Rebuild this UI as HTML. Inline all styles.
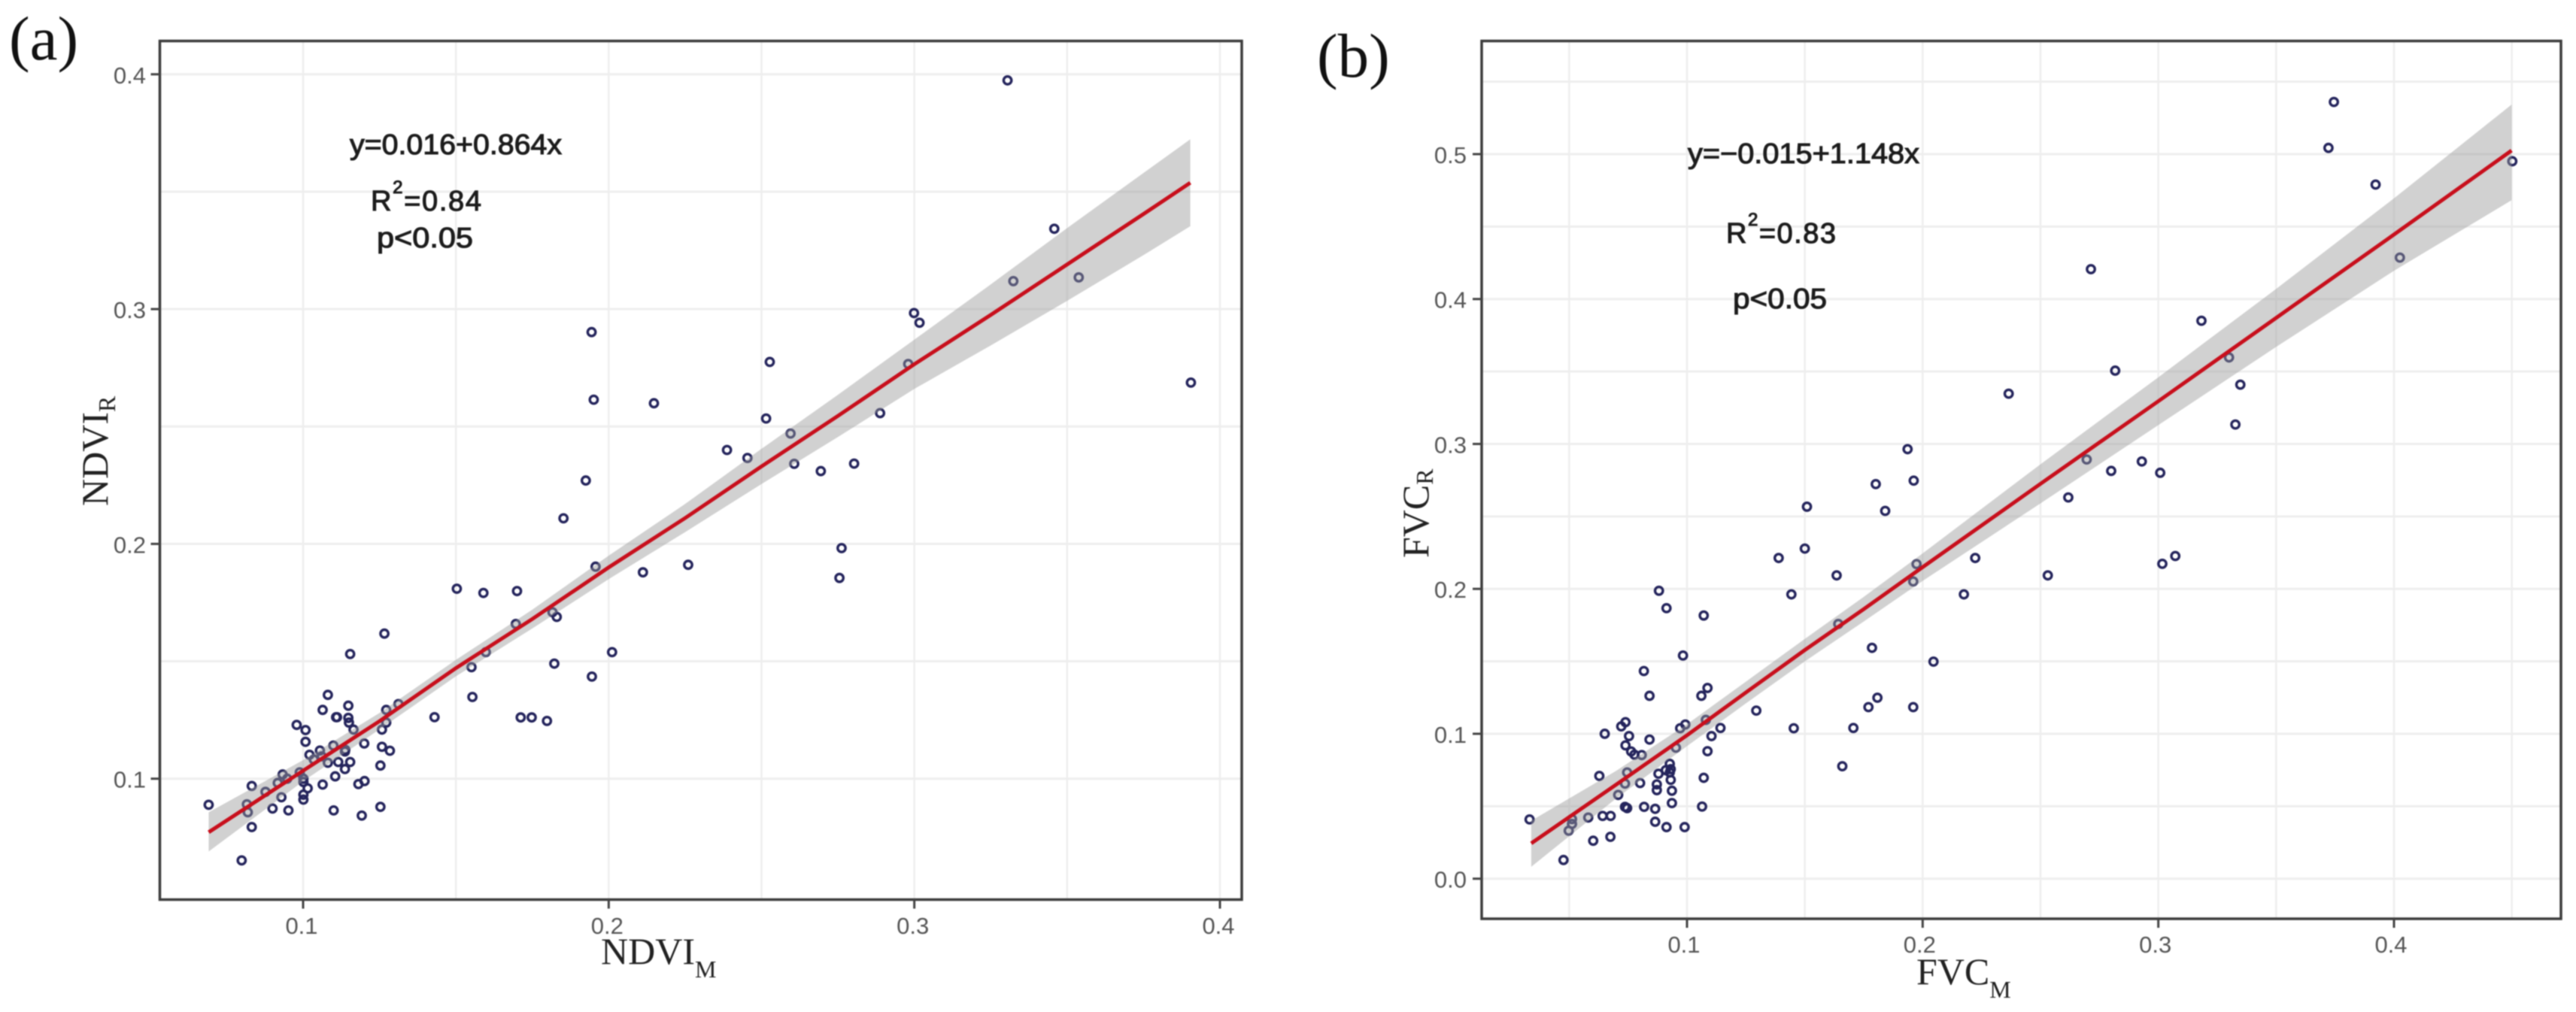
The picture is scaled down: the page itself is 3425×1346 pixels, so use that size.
<!DOCTYPE html>
<html lang="en">
<head>
<meta charset="utf-8">
<title>NDVI and FVC regression scatter plots</title>
<style>
html,body{margin:0;padding:0;background:#fff;width:3425px;height:1346px;overflow:hidden}
svg{display:block;filter:blur(.7px)}
.tick{font-family:"Liberation Sans",sans-serif;font-size:31px;fill:#555}
.axis{font-family:"Liberation Serif",serif;font-size:50px;fill:#222}
.sub{font-size:32px}
.panel{font-family:"Liberation Serif",serif;font-size:83px;fill:#111}
.eq{font-family:"Liberation Sans",sans-serif;font-size:38px;fill:#1c1c1c;stroke:#1c1c1c;stroke-width:1.1px}
</style>
</head>
<body>
<svg id="fig" width="3425" height="1346" viewBox="0 0 3425 1346" xmlns="http://www.w3.org/2000/svg">
  <rect width="3425" height="1346" fill="#fff"/>
  <g id="panelA"></g>
  <g id="panelB"></g>

  <text class="panel" x="12" y="79">(a)</text>
  <text class="panel" x="1751" y="102">(b)</text>

  <text class="eq" x="465" y="205" textLength="282" lengthAdjust="spacingAndGlyphs">y=0.016+0.864x</text>
  <text class="eq" x="493" y="280" textLength="147" lengthAdjust="spacing">R<tspan dy="-23" font-size="24">2</tspan><tspan dy="23">=0.84</tspan></text>
  <text class="eq" x="501" y="329" textLength="128" lengthAdjust="spacingAndGlyphs">p&lt;0.05</text>

  <text class="eq" x="2244" y="217" textLength="308" lengthAdjust="spacingAndGlyphs">y=−0.015+1.148x</text>
  <text class="eq" x="2295" y="323" textLength="146" lengthAdjust="spacing">R<tspan dy="-23" font-size="24">2</tspan><tspan dy="23">=0.83</tspan></text>
  <text class="eq" x="2304" y="410" textLength="125" lengthAdjust="spacingAndGlyphs">p&lt;0.05</text>

  <text class="axis" x="799" y="1282">NDVI<tspan class="sub" dy="18">M</tspan></text>
  <text class="axis" x="2548" y="1309">FVC<tspan class="sub" dy="18">M</tspan></text>
  <text class="axis" transform="translate(143,673) rotate(-90)">NDVI<tspan class="sub" dy="10">R</tspan></text>
  <text class="axis" transform="translate(1899,742) rotate(-90)">FVC<tspan class="sub" dy="6">R</tspan></text>
</svg>
<script>
// ---------- Panel (a) data ----------
const aPointsX = [.0691,.0799,.0832,.0816,.0819,.0832,.0877,.0900,.0917,.0929,.0933,.0952,.0948,.0979,.1008,.1008,.0989,.1001,.1001,.1015,.1001,.1001,.1021,.1055,.1061,.1035,.1064,.1081,.1064,.1081,.1099,.1105,.1115,.1100,.1108,.1111,.1138,.1137,.1137,.1154,.1148,.1148,.1150,.1165,.1181,.1200,.1201,.1192,.1258,.1272,.1272,.1312,.1258,.1284,.1253,.1253,.1154,.1266,.1430,.1503,.1551,.1554,.1590,.1598,.1700,.1696,.1712,.1748,.1798,.1816,.1830,.1822,.1852,.1957,.1945,.2011,.2112,.2260,.2762,.2755,.3305,.3458,.3324,.3538,.3905,.2999,.3017,.2980,.2888,.2527,.2148,.2515,.2595,.2387,.2454,.2607,.2694,.2803,.1944,.1951,.1925];
const aPointsY = [.0889,.0652,.0794,.0891,.0857,.0969,.0944,.0873,.0982,.0921,.1018,.0865,.1000,.1229,.1207,.1157,.1027,.1000,.0986,.0959,.0932,.0911,.1102,.1120,.1095,.1082,.1293,.1357,.0975,.1068,.1141,.1010,.1071,.0865,.1262,.1262,.1123,.1116,.1041,.1071,.1311,.1259,.1239,.1209,.0977,.1150,.0990,.0843,.1209,.1239,.1293,.1318,.1136,.1119,.1056,.0880,.1531,.1618,.1262,.1809,.1475,.1348,.1791,.1539,.1799,.1659,.1261,.1261,.1246,.1709,.1689,.1490,.2109,.1903,.1435,.1539,.1879,.1911,.1982,.1855,.3974,.3342,.3119,.3135,.2687,.2983,.2942,.2766,.2557,.2775,.2599,.2534,.2470,.2400,.2366,.2341,.2310,.2342,.2902,.2614,.2270];
const aFitX = [.0691,.1,.125,.15,.175,.2,.225,.25,.275,.3,.325,.35,.375,.3903];
const aFitY = [.0772,.1034,.1245,.1471,.1680,.1900,.2110,.2330,.2545,.2765,.2975,.3190,.3405,.3538];
const aBandUpper = [.0857,.1079,.1280,.1506,.1720,.1950,.2170,.2405,.2635,.2870,.3105,.3345,.3580,.3723];
const aBandLower = [.0690,.0989,.1210,.1436,.1640,.1850,.2050,.2255,.2455,.2660,.2845,.3035,.3230,.3353];
const aXTicks = [.1,.2,.3,.4];
const aXTickLabels = ["0.1","0.2","0.3","0.4"];
const aXMinor = [.15,.25,.35];
const aYTicks = [.1,.2,.3,.4];
const aYTickLabels = ["0.1","0.2","0.3","0.4"];
const aYMinor = [.15,.25,.35];

// ---------- Panel (b) data ----------
const bPointsX = [.0332,.0476,.0498,.0512,.0512,.0581,.0602,.0642,.0676,.0675,.0628,.0651,.0708,.0737,.0746,.0737,.0746,.0721,.0739,.0754,.0739,.0763,.0777,.0808,.0801,.0818,.0817,.0841,.0841,.0881,.0913,.0879,.0872,.0872,.0865,.0865,.0913,.0910,.0927,.0931,.0927,.0931,.0936,.0936,.0953,.0971,.0993,.0983,.0990,.1061,.1087,.1071,.1080,.1104,.1142,.1087,.1071,.1064,.1294,.1453,.1389,.1500,.1443,.1635,.1642,.1659,.1706,.1770,.1808,.1785,.1841,.1509,.1960,.1974,.1960,.2223,.2175,.2531,.3017,.3072,.2046,.1936,.1801,.1962,.3745,.3722,.3922,.4025,.4502,.2714,.3183,.3300,.3348,.3327,.2817,.2365,.2696,.2800,.2930,.3008,.2618];
const bPointsY = [.0409,.0129,.0331,.0378,.0411,.0422,.0262,.0433,.0433,.0289,.0709,.1000,.0578,.0656,.0733,.0496,.0487,.1051,.1080,.0984,.0920,.0878,.0856,.0853,.0660,.0496,.1433,.1262,.0960,.1987,.1867,.0724,.0651,.0611,.0482,.0393,.0356,.0749,.0793,.0756,.0733,.0682,.0607,.0522,.0904,.1038,.1064,.1540,.0356,.1262,.1316,.1816,.1096,.0984,.1040,.0880,.0696,.0498,.1160,.1038,.2213,.2278,.1962,.2093,.1758,.0776,.1040,.1184,.1249,.1593,.2538,.2567,.1184,.2171,.2051,.2213,.1962,.2093,.2173,.2227,.1498,.2964,.2723,.2747,.5360,.5043,.4790,.4286,.4951,.4206,.3850,.3597,.3409,.3134,.3506,.3347,.2893,.2814,.2879,.2801,.2631];
const bFitX = [.0339,.07,.1,.125,.15,.175,.2,.25,.3,.35,.4,.4499];
const bFitY = [.0244,.0650,.0990,.1285,.1578,.1860,.2150,.2725,.3295,.3870,.4445,.5025];
const bBandUpper = [.0400,.0745,.1065,.1360,.1655,.1945,.2245,.2860,.3460,.4070,.4695,.5342];
const bBandLower = [.0082,.0555,.0915,.1210,.1500,.1775,.2055,.2590,.3130,.3670,.4195,.4682];
const bXTicks = [.1,.2,.3,.4];
const bXTickLabels = ["0.1","0.2","0.3","0.4"];
const bXMinor = [.05,.15,.25,.35,.45];
const bYTicks = [0,.1,.2,.3,.4,.5];
const bYTickLabels = ["0.0","0.1","0.2","0.3","0.4","0.5"];
const bYMinor = [.05,.15,.25,.35,.45,.55];

const NS = "http://www.w3.org/2000/svg";
function linear(d0, r0, d1, r1) {
  return function (v) { return r0 + (v - d0) * (r1 - r0) / (d1 - d0); };
}
function mk(parent, tag, props) {
  const el = document.createElementNS(NS, tag);
  for (const k in props) el.setAttribute(k, props[k]);
  parent.appendChild(el);
  return el;
}

function drawPanel(root, prefix, frame, sx, sy, xMajor, xLabels, xMinor, yMajor, yLabels, yMinor,
                   px, py, fitX, fitY, upper, lower, labelRight, xLabelBaseline, xLabelShift) {
  const left = frame.x, right = frame.x + frame.w, top = frame.y, bottom = frame.y + frame.h;

  // gridlines
  xMinor.concat(xMajor).forEach(function (v) {
    const l = mk(root, "line", {x1: sx(v), x2: sx(v), y1: top, y2: bottom, stroke: "#eeeeee", "stroke-width": 2.5});
    
    
  });
  yMinor.concat(yMajor).forEach(function (v) {
    const l = mk(root, "line", {x1: left, x2: right, y1: sy(v), y2: sy(v), stroke: "#eeeeee", "stroke-width": 3});
    
    
  });

  // points
  px.forEach(function (v, i) {
    const c = mk(root, "circle", {cx: sx(v), cy: sy(py[i]), r: 5.2, fill: "none", stroke: "#24245c", "stroke-width": 3.4});
    
    
  });

  // confidence band
  let d = "";
  fitX.forEach(function (v, i) { d += (i ? "L" : "M") + sx(v) + " " + sy(upper[i]); });
  for (let i = fitX.length - 1; i >= 0; i--) d += "L" + sx(fitX[i]) + " " + sy(lower[i]);
  const band = mk(root, "path", {d: d + "Z", fill: "#999", "fill-opacity": .45});
  
  

  // fit line
  let f = "";
  fitX.forEach(function (v, i) { f += (i ? "L" : "M") + sx(v) + " " + sy(fitY[i]); });
  const line = mk(root, "path", {d: f, fill: "none", stroke: "#c80f1c", "stroke-width": 5});
  
  

  // frame
  const box = mk(root, "rect", {x: left, y: top, width: frame.w, height: frame.h, fill: "none", stroke: "#3c3c3c", "stroke-width": 3.5});
  
  

  // ticks and labels
  xMajor.forEach(function (v, i) {
    const t = mk(root, "line", {x1: sx(v), x2: sx(v), y1: bottom, y2: bottom + 12, stroke: "#444", "stroke-width": 3});
    
    
    const s = mk(root, "text", {x: sx(v) + xLabelShift, y: xLabelBaseline, "text-anchor": "middle", class: "tick"});
    
    
    s.textContent = xLabels[i];
  });
  yMajor.forEach(function (v, i) {
    const t = mk(root, "line", {x1: left - 12, x2: left, y1: sy(v), y2: sy(v), stroke: "#444", "stroke-width": 3});
    
    
    const s = mk(root, "text", {x: labelRight, y: sy(v) + 12, "text-anchor": "end", class: "tick"});
    
    
    s.textContent = yLabels[i];
  });
}

drawPanel(document.getElementById("panelA"), "a",
  {x: 212.5, y: 54.5, w: 1438.5, h: 1142},
  linear(.1, 403, .4, 1622), linear(.1, 1035.7, .4, 98.8),
  aXTicks, aXTickLabels, aXMinor, aYTicks, aYTickLabels, aYMinor,
  aPointsX, aPointsY, aFitX, aFitY, aBandUpper, aBandLower, 194, 1242, -2);

drawPanel(document.getElementById("panelB"), "b",
  {x: 1970, y: 54.5, w: 1435, h: 1167.5},
  linear(.1, 2243, .4, 3183), linear(0, 1168.7, .5, 205),
  bXTicks, bXTickLabels, bXMinor, bYTicks, bYTickLabels, bYMinor,
  bPointsX, bPointsY, bFitX, bFitY, bBandUpper, bBandLower, 1950, 1267, -4);
</script>
</body>
</html>
